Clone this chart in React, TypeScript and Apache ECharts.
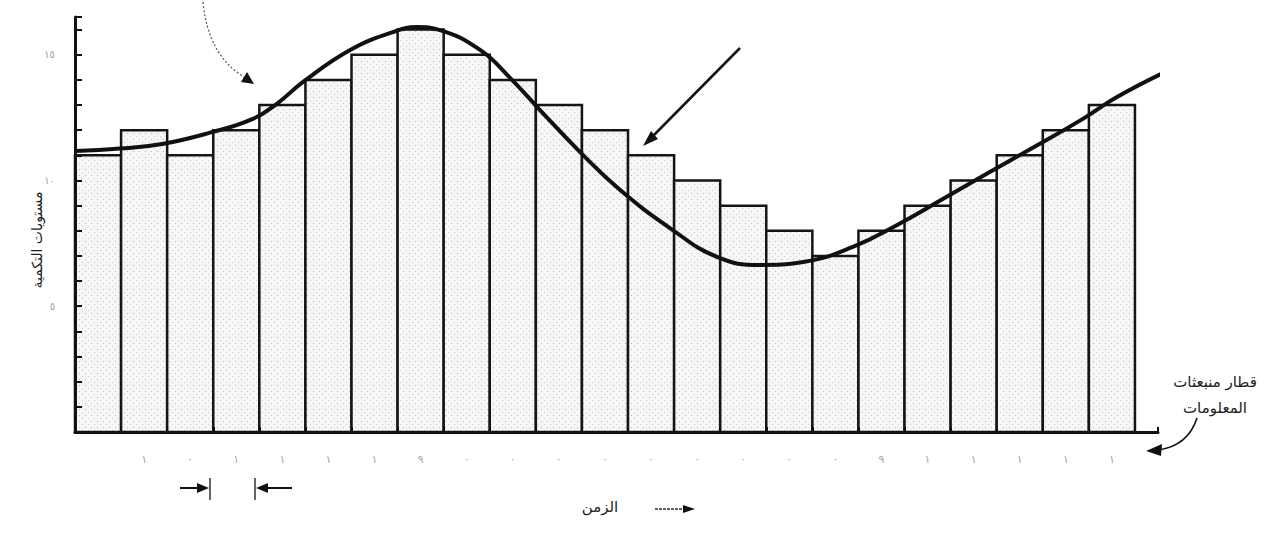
import React, { useEffect, useRef } from "react";
import * as echarts from "echarts";

// Quantization level of each sample (one bar per time slot)
const levels = [11, 12, 11, 12, 13, 14, 15, 16, 15, 14, 13, 12, 11, 10, 9, 8, 7, 8, 9, 10, 11, 12, 13];

// Analog signal (smooth curve) sample points, x in slot units, y in level units
const curveX = [0, 0.98, 1.89, 2.93, 3.86, 4.38, 4.95, 5.97, 6.9, 7.42, 7.92, 8.79, 9.44, 10.09, 10.96, 11.83, 12.91, 13.93, 14.86, 15.8, 16.88, 17.84, 18.83, 19.85, 20.85, 21.87, 22.61, 23.65];
const curveY = [11.17, 11.27, 11.45, 11.9, 12.45, 13.05, 13.92, 15.19, 15.9, 16.1, 15.98, 15.19, 14.08, 12.8, 11.13, 9.62, 8.11, 6.96, 6.64, 6.76, 7.36, 8.23, 9.26, 10.34, 11.37, 12.45, 13.32, 14.31];

// Faint code digits printed under slots 2..23
const codeLabels = ["١", "٠", "١", "١", "١", "١", "٩", "٠", "٠", "٠", "٠", "٠", "٠", "٠", "٠", "٠", "٩", "١", "١", "١", "١", "١"];

// Y tick labels (Arabic-Indic digits)
const yTickLabels: Record<number, string> = { 5: "٥", 10: "١٠", 15: "١٥" };

const yAxisName = "مستويات التكمية";
const trainLine1 = "قطار منبعثات";
const trainLine2 = "المعلومات";
const timeLabel = "الزمن";

const AR_FONT = "'DejaVu Sans', 'Noto Sans', sans-serif";

function makePattern() {
  const c = document.createElement("canvas");
  c.width = 6;
  c.height = 6;
  const ctx = c.getContext("2d");
  if (ctx) {
    ctx.fillStyle = "#f6f6f6";
    ctx.fillRect(0, 0, 6, 6);
    ctx.fillStyle = "#b8b8b8";
    ctx.fillRect(1, 1, 1, 1);
    ctx.fillStyle = "#cfcfcf";
    ctx.fillRect(4, 4, 1, 1);
  }
  return c;
}

export default function App() {
  const ref = useRef<HTMLDivElement>(null);

  useEffect(() => {
    if (!ref.current) return;
    const chart = echarts.init(ref.current, undefined, { renderer: "svg" });
    const canvas = makePattern();
    const pattern: any = { image: canvas, repeat: "repeat", imageWidth: 6, imageHeight: 6 };

    const arrowHead = (tip: number[], a: number[], b: number[]) => ({
      type: "polygon",
      shape: { points: [tip, a, b] },
      style: { fill: "#111" },
      silent: true,
    });

    const option: any = {
      animation: false,
      backgroundColor: "#ffffff",
      grid: { left: 75, right: 112, top: 17, bottom: 109, containLabel: false },
      xAxis: {
        type: "value",
        min: 0,
        max: 23.5,
        interval: 1,
        z: 10,
        axisLine: { show: true, onZero: false, lineStyle: { color: "#111", width: 3 } },
        axisTick: { show: true, inside: true, length: 5, lineStyle: { color: "#111", width: 2 } },
        axisLabel: { show: false },
        splitLine: { show: false },
      },
      yAxis: {
        type: "value",
        min: 0,
        max: 16.5,
        interval: 1,
        z: 10,
        axisLine: { show: true, lineStyle: { color: "#111", width: 3 } },
        axisTick: { show: true, inside: true, length: 7, lineStyle: { color: "#111", width: 2 } },
        axisLabel: {
          show: true,
          margin: 20,
          color: "#9a9a9a",
          fontSize: 10,
          fontFamily: AR_FONT,
          formatter: (v: number) => yTickLabels[v] || "",
        },
        splitLine: { show: false },
      },
      series: [
        {
          type: "custom",
          name: "levels",
          data: levels.map((v, i) => [i, v]),
          encode: { x: 0, y: 1 },
          z: 2,
          renderItem: (params: any, api: any) => {
            const i = api.value(0);
            const v = api.value(1);
            const p0 = api.coord([i, 0]);
            const p1 = api.coord([i + 1, v]);
            return {
              type: "rect",
              shape: { x: p0[0], y: p1[1], width: p1[0] - p0[0], height: p0[1] - p1[1] },
              style: { fill: pattern, stroke: "#151515", lineWidth: 2.5 },
            };
          },
        },
        {
          type: "line",
          name: "signal",
          data: curveX.map((x, i) => [x, curveY[i]]),
          smooth: 0.45,
          symbol: "none",
          clip: false,
          z: 5,
          lineStyle: { color: "#111", width: 4 },
        },
        {
          type: "scatter",
          name: "codes",
          data: codeLabels.map((_, k) => [k + 1.5, 0]),
          symbolSize: 0,
          silent: true,
          clip: false,
          z: 6,
          label: {
            show: true,
            position: "bottom",
            distance: 22,
            color: "#8a8a8a",
            fontSize: 11,
            fontFamily: AR_FONT,
            formatter: (p: any) => codeLabels[p.dataIndex],
          },
        },
      ],
      graphic: [
        {
          type: "text",
          x: 37,
          y: 240,
          rotation: Math.PI / 2,
          silent: true,
          style: { text: yAxisName, fontSize: 14, fontFamily: AR_FONT, fill: "#222", align: "center", verticalAlign: "middle" },
        },
        {
          type: "text",
          x: 1215,
          y: 382,
          silent: true,
          style: { text: trainLine1, fontSize: 15, fontFamily: AR_FONT, fill: "#222", align: "center", verticalAlign: "middle" },
        },
        {
          type: "text",
          x: 1215,
          y: 408,
          silent: true,
          style: { text: trainLine2, fontSize: 15, fontFamily: AR_FONT, fill: "#222", align: "center", verticalAlign: "middle" },
        },
        {
          type: "bezierCurve",
          silent: true,
          shape: { x1: 1197, y1: 418, cpx1: 1188, cpy1: 446, x2: 1158, y2: 450 },
          style: { stroke: "#111", lineWidth: 1.6, fill: null },
        },
        arrowHead([1146, 451], [1162, 444], [1161, 456]),
        {
          type: "line",
          silent: true,
          shape: { x1: 740, y1: 48, x2: 652, y2: 137 },
          style: { stroke: "#111", lineWidth: 2.5 },
        },
        arrowHead([643, 146], [658, 139], [651, 131]),
        {
          type: "bezierCurve",
          silent: true,
          shape: { x1: 203, y1: 2, cpx1: 208, cpy1: 55, x2: 244, y2: 77 },
          style: { stroke: "#555", lineWidth: 1.2, lineDash: [2, 2], fill: null },
        },
        arrowHead([254, 84], [241, 82], [247, 72]),
        {
          type: "line",
          silent: true,
          shape: { x1: 210, y1: 478, x2: 210, y2: 500 },
          style: { stroke: "#333", lineWidth: 1.5 },
        },
        {
          type: "line",
          silent: true,
          shape: { x1: 255, y1: 478, x2: 255, y2: 500 },
          style: { stroke: "#333", lineWidth: 1.5 },
        },
        {
          type: "line",
          silent: true,
          shape: { x1: 180, y1: 488, x2: 200, y2: 488 },
          style: { stroke: "#111", lineWidth: 2 },
        },
        arrowHead([209, 488], [197, 483], [197, 493]),
        {
          type: "line",
          silent: true,
          shape: { x1: 292, y1: 488, x2: 265, y2: 488 },
          style: { stroke: "#111", lineWidth: 2 },
        },
        arrowHead([256, 488], [268, 483], [268, 493]),
        {
          type: "text",
          x: 600,
          y: 507,
          silent: true,
          style: { text: timeLabel, fontSize: 15, fontFamily: AR_FONT, fill: "#222", align: "center", verticalAlign: "middle" },
        },
        {
          type: "line",
          silent: true,
          shape: { x1: 655, y1: 509, x2: 685, y2: 509 },
          style: { stroke: "#333", lineWidth: 1.5, lineDash: [3, 1] },
        },
        arrowHead([695, 509], [683, 505], [683, 513]),
      ],
    };

    chart.setOption(option);
    return () => {
      chart.dispose();
    };
  }, []);

  return (
    <div
      ref={ref}
      style={{ position: "fixed", left: 0, top: 0, width: 1270, height: 541, background: "#fff" }}
    />
  );
}
